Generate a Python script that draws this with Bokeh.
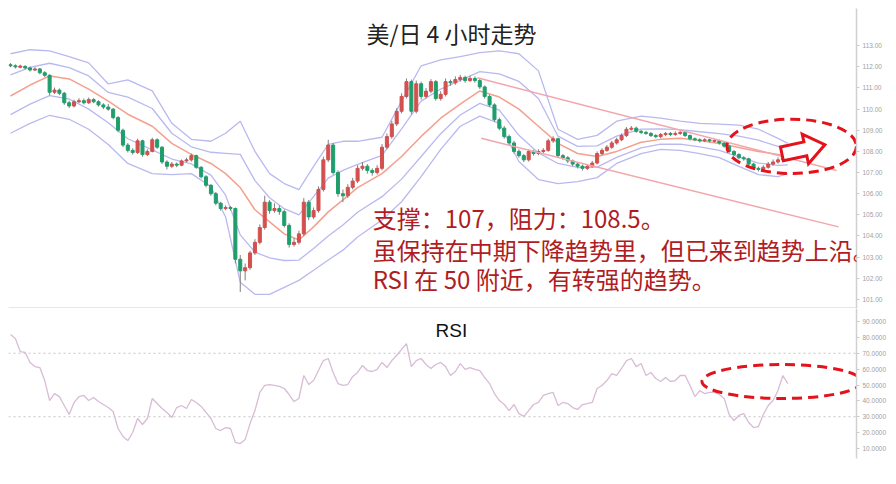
from bokeh.plotting import figure
from bokeh.layouts import column
from bokeh.models import Range1d, FixedTicker, NumeralTickFormatter, Label, Span
from bokeh.embed import file_html
from bokeh.resources import INLINE

# ---------------- data ----------------
first_open = 112.10
closes = [
    112.05, 112.00, 112.02, 111.95, 111.85, 111.90, 111.72, 111.60, 110.80, 110.90,
    110.75, 110.30, 110.15, 110.35, 110.40, 110.30, 110.45, 110.35, 110.20, 110.10,
    110.00, 109.60, 109.00, 108.30, 108.05, 107.95, 108.50, 107.85, 108.00, 108.55,
    108.20, 107.50, 107.30, 107.40, 107.35, 107.55, 107.60, 107.80, 107.25, 106.80,
    106.40, 106.00, 105.55, 105.30, 105.35, 105.30, 102.90, 102.35, 102.50, 103.20,
    103.70, 104.40, 105.60, 105.20, 105.30, 105.15, 104.50, 103.60, 103.70, 104.10,
    105.60, 104.90, 105.20, 106.20, 107.60, 108.30, 107.00, 106.00, 105.90, 106.30,
    106.60, 107.20, 107.30, 107.10, 107.00, 107.20, 108.20, 108.70, 109.30, 109.90,
    110.60, 111.30, 109.90, 111.20, 110.60, 110.85, 111.30, 110.50, 110.70, 111.30,
    111.25, 111.40, 111.50, 111.35, 111.45, 111.35, 111.05, 110.60, 110.20, 109.50,
    109.10, 108.70, 108.40, 108.00, 107.80, 107.60, 108.00, 107.90, 108.00, 108.05,
    108.50, 108.60, 107.80, 107.70, 107.55, 107.40, 107.30, 107.20, 107.30, 107.45,
    107.90, 108.05, 108.20, 108.40, 108.55, 108.75, 109.05, 109.10, 108.95, 108.90,
    108.85, 108.75, 108.70, 108.80, 108.85, 108.80, 108.85, 108.90, 108.75, 108.60,
    108.55, 108.50, 108.55, 108.50, 108.50, 108.40, 108.25, 108.00, 107.85, 107.70,
    107.65, 107.40, 107.20, 107.15, 107.25, 107.40, 107.50, 107.60, 107.70, 107.80,
]
highs = [
    112.18, 112.12, 112.10, 112.08, 112.02, 111.98, 111.95, 111.80, 111.65, 111.02,
    110.98, 110.82, 110.40, 110.45, 110.52, 110.50, 110.55, 110.52, 110.42, 110.28,
    110.25, 110.05, 109.68, 109.08, 108.40, 108.15, 108.60, 108.55, 108.10, 108.65,
    108.62, 108.25, 107.58, 107.50, 107.48, 107.62, 107.70, 107.90, 107.85, 107.30,
    106.88, 106.45, 106.08, 105.62, 105.45, 105.42, 105.35, 103.10, 102.70, 103.30,
    103.85, 104.55, 105.90, 105.70, 105.55, 105.45, 105.25, 104.60, 103.90, 104.25,
    105.80, 105.70, 105.35, 106.35, 107.75, 108.55, 108.40, 107.10, 106.20, 106.45,
    106.75, 107.35, 107.50, 107.40, 107.20, 107.35, 108.35, 108.85, 109.45, 110.05,
    110.75, 111.45, 111.40, 111.35, 111.30, 111.00, 111.42, 111.38, 110.85, 111.45,
    111.40, 111.55, 111.62, 111.58, 111.58, 111.55, 111.45, 111.12, 110.68, 110.28,
    109.60, 109.20, 108.80, 108.50, 108.10, 107.88, 108.10, 108.08, 108.10, 108.15,
    108.60, 108.72, 108.65, 107.88, 107.78, 107.62, 107.48, 107.38, 107.40, 107.55,
    108.00, 108.15, 108.30, 108.50, 108.65, 108.85, 109.15, 109.20, 109.18, 109.02,
    108.98, 108.92, 108.82, 108.88, 108.92, 108.92, 108.95, 108.98, 108.96, 108.80,
    108.66, 108.62, 108.63, 108.60, 108.58, 108.56, 108.46, 108.30, 108.06, 107.92,
    107.78, 107.70, 107.46, 107.28, 107.35, 107.50, 107.62, 107.72, 107.82, 107.90,
]
lows = [
    111.98, 111.92, 111.93, 111.88, 111.78, 111.80, 111.65, 111.52, 110.65, 110.72,
    110.66, 110.20, 110.05, 110.08, 110.28, 110.22, 110.24, 110.28, 110.12, 110.00,
    109.92, 109.52, 108.90, 108.20, 107.95, 107.85, 107.88, 107.75, 107.78, 107.95,
    108.12, 107.40, 107.15, 107.22, 107.25, 107.30, 107.48, 107.52, 107.18, 106.72,
    106.30, 105.90, 105.45, 105.20, 105.22, 105.20, 102.70, 101.35, 101.90, 102.40,
    103.10, 103.60, 104.30, 105.05, 105.10, 105.00, 104.40, 103.45, 103.50, 103.60,
    104.00, 104.75, 104.80, 105.10, 106.10, 107.50, 106.90, 105.85, 105.60, 105.80,
    106.20, 106.50, 107.10, 106.95, 106.85, 106.90, 107.10, 108.10, 108.60, 109.20,
    109.80, 110.50, 109.75, 109.80, 110.45, 110.50, 110.75, 110.40, 110.40, 110.60,
    111.10, 111.15, 111.30, 111.25, 111.28, 111.25, 110.95, 110.50, 110.10, 109.40,
    109.00, 108.60, 108.30, 107.90, 107.70, 107.50, 107.52, 107.80, 107.82, 107.92,
    107.98, 108.40, 107.70, 107.60, 107.45, 107.30, 107.20, 107.10, 107.12, 107.22,
    107.38, 107.82, 107.98, 108.12, 108.32, 108.48, 108.68, 108.98, 108.88, 108.82,
    108.78, 108.68, 108.62, 108.62, 108.72, 108.72, 108.74, 108.78, 108.68, 108.52,
    108.48, 108.42, 108.44, 108.42, 108.42, 108.32, 108.18, 107.92, 107.78, 107.62,
    107.56, 107.32, 107.12, 107.05, 107.08, 107.18, 107.32, 107.42, 107.52, 107.62,
]
rsi = [
    81.8, 79.3, 71.0, 70.5, 64.2, 61.6, 61.0, 52.8, 40.2, 44.6,
    42.7, 37.1, 31.4, 39.0, 42.7, 43.4, 40.2, 42.1, 39.6, 37.7,
    35.8, 33.3, 22.6, 17.6, 15.0, 20.1, 28.9, 25.1, 28.9, 41.5,
    38.3, 35.2, 32.7, 29.5, 35.8, 37.1, 35.2, 40.9, 39.0, 36.5,
    32.7, 28.9, 22.6, 21.3, 23.2, 22.6, 13.8, 13.1, 15.6, 25.7,
    33.9, 45.3, 49.7, 50.3, 49.7, 49.1, 47.8, 44.0, 39.6, 41.5,
    56.0, 50.3, 52.8, 59.1, 65.4, 66.7, 57.9, 50.9, 49.7, 50.3,
    55.4, 57.9, 62.3, 59.1, 58.5, 59.8, 64.2, 61.0, 65.4, 68.6,
    72.4, 76.1, 61.6, 65.4, 66.7, 62.9, 60.4, 62.9, 64.2, 61.6,
    56.0, 58.5, 63.5, 59.8, 61.0, 59.8, 59.1, 54.7, 50.9, 44.6,
    40.2, 37.7, 33.9, 37.7, 32.0, 30.2, 33.9, 37.7, 39.0, 43.4,
    44.6, 45.3, 37.1, 39.0, 38.3, 35.8, 34.6, 37.7, 38.3, 39.0,
    47.8, 49.7, 52.8, 57.2, 56.0, 60.4, 65.4, 66.7, 61.6, 63.5,
    56.0, 57.9, 54.1, 52.2, 54.7, 52.2, 52.8, 56.0, 56.0, 49.7,
    42.7, 46.5, 44.6, 45.3, 45.3, 44.0, 41.5, 31.4, 27.6, 30.8,
    32.0, 26.4, 23.2, 23.8, 31.4, 37.1, 40.2, 46.5, 56.0, 50.9,
]

# Bollinger-type bands and moving average, read at sample candles
band_idx = [0, 4, 8, 12, 16, 20, 24, 29, 33, 37, 41, 44, 47, 50, 53, 56, 59, 62, 65, 68,
            71, 76, 80, 84, 88, 92, 96, 100, 104, 108, 112, 116, 120, 124, 129, 133, 137,
            141, 145, 149, 153, 157, 159]
band_up2 = [112.62, 112.81, 112.76, 112.48, 112.19, 111.19, 111.38, 110.86, 109.33, 108.57,
            108.48, 108.86, 109.43, 108.00, 106.95, 106.48, 106.19, 107.29, 108.33, 108.48,
            108.48, 108.67, 110.38, 112.05, 112.33, 112.48, 112.67, 112.76, 112.62, 111.81,
            109.05, 108.57, 108.76, 109.43, 109.67, 109.57, 109.43, 109.33, 109.29, 109.24,
            109.05, 108.62, 108.38]
band_up1 = [111.62, 111.98, 112.17, 111.96, 111.57, 110.79, 110.57, 110.03, 108.86, 108.22,
            107.96, 107.91, 107.86, 106.62, 105.81, 105.29, 105.00, 105.86, 106.74, 107.10,
            107.39, 107.81, 109.07, 110.38, 110.95, 111.36, 111.77, 111.67, 111.31, 110.50,
            108.72, 108.24, 108.26, 108.72, 109.05, 109.07, 109.03, 108.93, 108.84, 108.72,
            108.53, 108.24, 108.07]
ma_mid = [110.62, 111.14, 111.57, 111.43, 110.95, 110.38, 109.76, 109.19, 108.38, 107.86,
          107.43, 106.95, 106.29, 105.24, 104.67, 104.10, 103.81, 104.43, 105.14, 105.71,
          106.29, 106.95, 107.76, 108.71, 109.57, 110.24, 110.86, 110.57, 110.00, 109.19,
          108.38, 107.90, 107.76, 108.00, 108.43, 108.57, 108.62, 108.52, 108.38, 108.19,
          108.00, 107.86, 107.76]
band_lo1 = [109.74, 110.24, 110.64, 110.48, 110.00, 109.36, 108.60, 108.07, 107.64, 107.41,
            106.88, 105.93, 104.05, 103.24, 102.96, 102.84, 102.86, 103.41, 104.00, 104.52,
            105.12, 105.86, 106.69, 107.76, 108.84, 109.72, 110.27, 109.95, 108.76, 107.93,
            107.43, 107.24, 107.26, 107.72, 108.17, 108.34, 108.34, 108.21, 108.05, 107.74,
            107.45, 107.34, 107.36]
band_lo2 = [108.86, 109.33, 109.71, 109.52, 109.05, 108.33, 107.43, 106.95, 106.90, 106.95,
            106.33, 104.90, 101.81, 101.24, 101.24, 101.57, 101.90, 102.38, 102.86, 103.33,
            103.95, 104.76, 105.62, 106.81, 108.10, 109.19, 109.67, 109.33, 107.52, 106.67,
            106.48, 106.57, 106.76, 107.43, 107.90, 108.10, 108.05, 107.90, 107.71, 107.29,
            106.90, 106.81, 106.95]

# trend channel (candle index, price)
trend_up_idx = [95.5, 169.0]
trend_up_val = [111.48, 107.10]
trend_lo_idx = [96.3, 169.4]
trend_lo_val = [108.62, 104.43]

price_ticks = [101, 102, 103, 104, 105, 106, 107, 108, 109, 110, 111, 112, 113]
rsi_ticks = [10, 20, 30, 40, 50, 60, 70, 80, 90]
rsi_levels = [70, 30]

title_text = "美/日 4 小时走势"
note_lines = ["支撑：107，阻力：108.5。",
              "虽保持在中期下降趋势里，但已来到趋势上沿。",
              "RSI 在 50 附近，有转强的趋势。"]

# ---------------- build ----------------
N = len(closes)
idx = list(range(N))
opens = [first_open] + closes[:-1]

RED = "#d2504e"
GREEN = "#1f9e6c"
ANN = "#e3121b"
TXT = "#b01c22"

x_range = Range1d(-0.41, 173.06)


def style_right_axis(ax, ticks, fmt):
    ax.ticker = FixedTicker(ticks=ticks)
    ax.formatter = NumeralTickFormatter(format=fmt)
    ax.major_label_text_font_size = "6.5px"
    ax.major_label_text_color = "#a0a0a0"
    ax.major_label_text_font = "Liberation Sans"
    ax.axis_line_color = "#d0d0d0"
    ax.axis_line_width = 1.5
    ax.major_tick_out = 3
    ax.major_tick_in = 0
    ax.major_tick_line_color = "#cccccc"
    ax.minor_tick_out = 0
    ax.minor_tick_in = 0
    ax.major_label_standoff = 3


p1 = figure(width=888, height=308, x_range=x_range, y_range=Range1d(100.57, 114.76),
            output_backend="svg", toolbar_location=None,
            x_axis_location="below", y_axis_location="right",
            min_border_left=8, min_border_right=30, min_border_top=8, min_border_bottom=0)
p1.outline_line_color = None
p1.grid.visible = False
p1.background_fill_color = "white"
p1.border_fill_color = "white"
style_right_axis(p1.yaxis[0], price_ticks, "0.00")
xa = p1.xaxis[0]
xa.ticker = FixedTicker(ticks=[])
xa.major_label_text_font_size = "0px"
xa.major_tick_out = 0
xa.major_tick_in = 0
xa.minor_tick_out = 0
xa.minor_tick_in = 0
xa.major_label_standoff = 0
xa.axis_line_color = "#cfcfcf"
xa.axis_line_width = 2

# bands and average
for band in (band_up2, band_up1, band_lo1, band_lo2):
    p1.line(band_idx, band, line_color="#b9b9f0", line_width=1.3)
p1.line(band_idx, ma_mid, line_color="#f3a08e", line_width=1.5)

# candles
p1.segment(idx, highs, idx, lows, line_color="#808080", line_width=1)
tops, bottoms, colors = [], [], []
for o, c in zip(opens, closes):
    hi, lo = max(o, c), min(o, c)
    if hi - lo < 0.04:
        hi, lo = hi + 0.02, lo - 0.02
    tops.append(hi)
    bottoms.append(lo)
    colors.append(RED if c >= o else GREEN)
p1.vbar(x=idx, width=0.62, top=tops, bottom=bottoms, fill_color=colors, line_color=colors)

# trend channel
p1.line(trend_up_idx, trend_up_val, line_color="#f2a5ab", line_width=1.5)
p1.line(trend_lo_idx, trend_lo_val, line_color="#f2a5ab", line_width=1.5)

# dashed ellipse and hollow arrow
p1.ellipse(x=[159.8], y=[108.24], width=26.5, height=2.57, fill_color=None,
           line_color=ANN, line_width=3, line_dash="10 6")
px_x, px_y = 1 / 4.9, 1 / 21.0
cx, cy = 162.2, 108.10
shape = [(-23.0, 2.3), (0.5, 7.3), (-1.2, 15.1), (21.5, 4.6), (5.1, -14.3), (3.4, -6.4), (-20.1, -11.4)]
p1.patch([cx + u * px_x for u, v in shape], [cy + v * px_y for u, v in shape],
         fill_color="white", line_color=ANN, line_width=3, line_join="miter")

# texts
p1.add_layout(Label(x=90.2, y=113.62, text=title_text, text_align="center", text_baseline="middle",
                    text_font="Noto Sans CJK SC", text_font_size="23px", text_color="#222222"))
for line, yv in zip(note_lines, [104.86, 103.38, 101.98]):
    p1.add_layout(Label(x=74.1, y=yv, text=line, text_align="left", text_baseline="middle",
                        text_font="Noto Sans CJK SC", text_font_size="24px", text_color=TXT))

# ---------------- RSI panel ----------------
p2 = figure(width=888, height=168, x_range=x_range, y_range=Range1d(3.70, 98.19),
            output_backend="svg", toolbar_location=None,
            x_axis_location=None, y_axis_location="right",
            min_border_left=8, min_border_right=30, min_border_top=0, min_border_bottom=18)
p2.outline_line_color = None
p2.grid.visible = False
style_right_axis(p2.yaxis[0], rsi_ticks, "0.0000")
for lvl in rsi_levels:
    p2.add_layout(Span(location=lvl, dimension="width", line_color="#c4c4c4",
                       line_dash="2 3", line_width=1))
p2.line(idx, rsi, line_color="#d8bcd6", line_width=1.3)
p2.ellipse(x=[157.8], y=[52.2], width=32.7, height=21.4, fill_color=None,
           line_color=ANN, line_width=3, line_dash="10 6")
p2.add_layout(Label(x=90.2, y=84.3, text="RSI", text_align="center", text_baseline="middle",
                    text_font="Liberation Sans", text_font_size="19px", text_color="#111111"))

layout = column(p1, p2, spacing=0)
open("out.html", "w").write(file_html(layout, INLINE))
